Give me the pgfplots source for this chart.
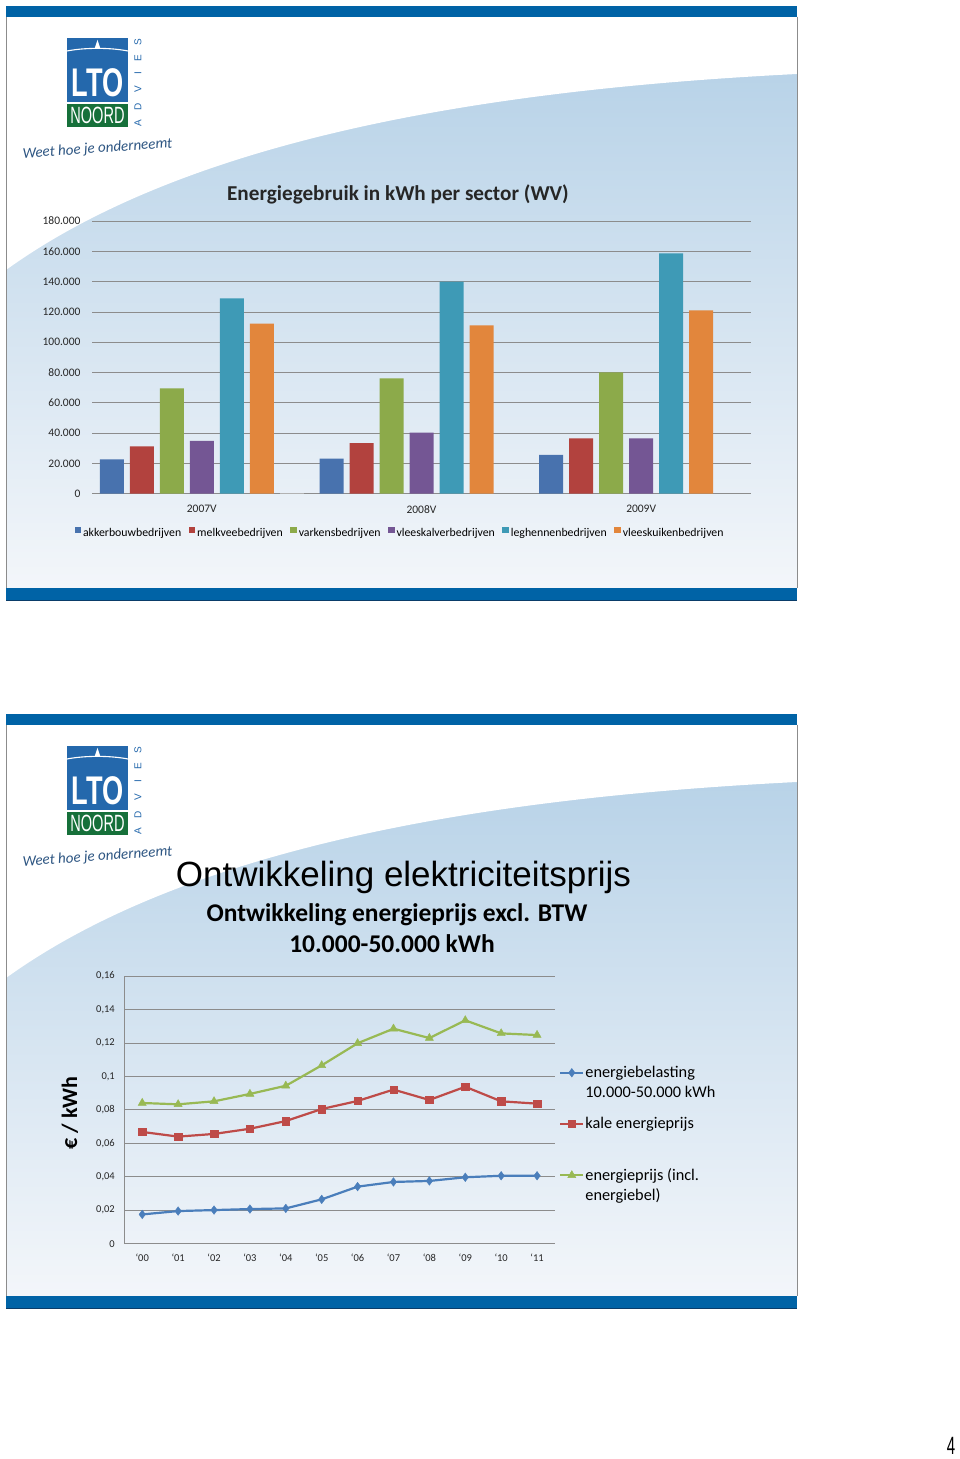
\documentclass[border=0pt]{standalone}
\usepackage{fontspec}
\setmainfont{Carlito}
\newfontfamily\arialfont{Liberation Sans}
\usepackage{pgfplots}
\pgfplotsset{compat=1.18}
\definecolor{band}{RGB}{0,99,166}
\definecolor{bandline}{RGB}{10,60,105}
\definecolor{bgtop}{RGB}{178,207,230}
\definecolor{bgmid}{RGB}{214,228,240}
\definecolor{bgbot}{RGB}{243,246,250}
\definecolor{logoblue}{RGB}{36,104,172}
\definecolor{logogreen}{RGB}{22,112,58}
\definecolor{slogan}{RGB}{45,85,130}
\definecolor{cA}{RGB}{72,114,174}
\definecolor{cB}{RGB}{178,66,62}
\definecolor{cC}{RGB}{140,170,74}
\definecolor{cD}{RGB}{116,86,148}
\definecolor{cE}{RGB}{62,154,182}
\definecolor{cF}{RGB}{226,134,60}
\definecolor{lA}{RGB}{74,126,187}
\definecolor{lB}{RGB}{190,75,72}
\definecolor{lC}{RGB}{152,185,84}
\definecolor{gridc}{RGB}{140,140,140}

\newcommand{\slidebg}[1]{%
\begin{scope}[x=1pt,y=-1pt,yshift=#1pt]
  \shade[top color=bgtop, middle color=bgmid, bottom color=bgbot] (6,17) rectangle (797,588);
  \fill[white] (6,17) -- (797,17) -- (797,74) .. controls (520,88) and (200,130) .. (6,270) -- cycle;
  \fill[band] (6,6) rectangle (797,17.5);
  \fill[band] (6,588) rectangle (797,600);
  \draw[bandline, line width=0.8pt] (6,600) -- (797,600);
  \draw[black!45, line width=0.5pt] (6,17.5) -- (6,588) (797,17.5) -- (797,588);
  \fill[logoblue] (67,38) rectangle (128,102);
  \fill[logogreen] (67,104) rectangle (128,127);
  \draw[white, line width=1.1pt] (67,51) .. controls (85,47.5) and (110,47.5) .. (128,51);
  \fill[white] (94.5,49) -- (97.5,40) -- (100.5,49) -- cycle;
  \node[white, font=\arialfont\bfseries\fontsize{40}{40}\selectfont, xscale=0.68, anchor=base, inner sep=0pt] at (97.5,97) {LTO};
  \node[white, font=\arialfont\fontsize{23.5}{24}\selectfont, xscale=0.62, anchor=base, inner sep=0pt] at (97.5,124) {NOORD};
  \foreach \l/\yy in {A/123,D/107,V/89,I/73,E/58,S/42}
    \node[logoblue, font=\arialfont\fontsize{10}{10}\selectfont, rotate=90, inner sep=0pt] at (138,\yy) {\l};
  \node[slogan, font=\itshape\fontsize{15}{15}\selectfont, rotate=4, inner sep=0pt] at (97.5,149) {Weet hoe je onderneemt};
\end{scope}}

\begin{document}
\begin{tikzpicture}
\fill[white] (0pt,0pt) rectangle (960pt,1459pt);
\useasboundingbox (0pt,0pt) rectangle (960pt,1459pt);
\slidebg{1459}
\slidebg{751}

% texts in image coordinates
\begin{scope}[x=1pt,y=-1pt,yshift=1459pt]
  \node[font=\bfseries\fontsize{21.2}{22}\selectfont, anchor=base, text=black!85] at (398,201) {Energiegebruik in kWh per sector (WV)};
  \node[font=\arialfont\fontsize{35}{35}\selectfont, anchor=base] at (403.5,887) {Ontwikkeling elektriciteitsprijs};
  \node[font=\bfseries\fontsize{25.5}{26}\selectfont, anchor=base] at (397,922) {Ontwikkeling energieprijs excl. BTW};
  \node[font=\bfseries\fontsize{25.5}{26}\selectfont, anchor=base] at (392,953) {10.000-50.000 kWh};
  \node[font=\arialfont\fontsize{25}{25}\selectfont, xscale=0.6, anchor=base] at (951,1454) {4};
\end{scope}

% ---------- top chart ----------
\begin{axis}[
  at={(92pt,965.3pt)}, anchor=south west,
  width=659pt, height=272.7pt, scale only axis,
  xmin=-0.5, xmax=2.5, ymin=0, ymax=180000,
  ybar, bar width=24pt,
  axis line style={draw=none},
  major tick length=0pt,
  ymajorgrids, grid style={gridc, line width=0.7pt},
  xtick={0,1,2}, xticklabels={2007V,2008V,2009V},
  ytick={0,20000,40000,60000,80000,100000,120000,140000,160000,180000},
  scaled y ticks=false,
  /pgf/number format/fixed,
  /pgf/number format/set thousands separator={.},
  /pgf/number format/assume math mode=true,
  tick label style={font=\fontsize{11.5}{12}\selectfont, text=black!85},
  yticklabel style={xshift=-8pt},
  xticklabel style={yshift=-8pt},
  legend columns=6,
  legend style={at={(0.4674,-0.1441)}, anchor=center, draw=none, fill=none,
    font=\fontsize{11.8}{13}\selectfont, inner sep=0pt,
    cells={inner sep=1.2pt},
    /tikz/every even column/.append style={column sep=5.5pt}},
  legend image code/.code={\fill[#1, draw=none] (0pt,-0.5pt) rectangle (6.5pt,6pt);},
]
\addplot[fill=cA, draw=none, bar shift=-90pt] coordinates {(0,22700) (1,23100) (2,25700)};
\addlegendentry{akkerbouwbedrijven}
\addplot[fill=cB, draw=none, bar shift=-60pt] coordinates {(0,31200) (1,33400) (2,36500)};
\addlegendentry{melkveebedrijven}
\addplot[fill=cC, draw=none, bar shift=-30pt] coordinates {(0,69500) (1,76100) (2,80100)};
\addlegendentry{varkensbedrijven}
\addplot[fill=cD, draw=none, bar shift=0pt] coordinates {(0,34800) (1,40300) (2,36500)};
\addlegendentry{vleeskalverbedrijven}
\addplot[fill=cE, draw=none, bar shift=30pt] coordinates {(0,129000) (1,140000) (2,158700)};
\addlegendentry{leghennenbedrijven}
\addplot[fill=cF, draw=none, bar shift=60pt] coordinates {(0,112200) (1,111100) (2,121000)};
\addlegendentry{vleeskuikenbedrijven}
\addplot[fill=gray!60, draw=none, bar shift=90pt, forget plot] coordinates {(0,400)};
\end{axis}

% ---------- bottom chart ----------
\begin{axis}[
  at={(124.3pt,215.3pt)}, anchor=south west,
  width=430.7pt, height=267.7pt, scale only axis,
  xmin=-0.5, xmax=11.5, ymin=0, ymax=0.16,
  separate axis lines,
  axis x line*=bottom, axis y line*=left,
  axis line style={gridc, line width=0.8pt, -},
  major tick length=0pt,
  ymajorgrids, grid style={gridc, line width=0.7pt},
  xtick={0,1,2,3,4,5,6,7,8,9,10,11},
  xticklabels={`00,`01,`02,`03,`04,`05,`06,`07,`08,`09,`10,`11},
  ytick={0,0.02,0.04,0.06,0.08,0.1,0.12,0.14,0.16},
  /pgf/number format/use comma,
  /pgf/number format/fixed,
  /pgf/number format/precision=2,
  /pgf/number format/assume math mode=true,
  tick label style={font=\fontsize{10.5}{11}\selectfont, text=black!85},
  yticklabel style={xshift=-6pt},
  xticklabel style={yshift=-7pt},
  ylabel={€ / kWh},
  ylabel style={at={(axis description cs:-0.126,0.488)}, anchor=center, font=\bfseries\fontsize{22}{22}\selectfont},
  legend style={at={(1.0093,0.6675)}, anchor=north west, draw=none, fill=none,
    font=\fontsize{16.3}{20}\selectfont, inner sep=0pt,
    cells={anchor=base west},
    nodes={inner sep=1pt, text depth=}},
  legend image code/.code={\draw[mark repeat=2,mark phase=2,#1] plot coordinates {(0pt,4.8pt)(11.5pt,4.8pt)(23pt,4.8pt)};},
]
\addplot[lA, line width=2.2pt, mark=diamond*, mark size=4.3pt, mark options={solid, fill=lA, line width=0.4pt}]
  coordinates {(0,0.0175) (1,0.0195) (2,0.0201) (3,0.0207) (4,0.0211) (5,0.0265) (6,0.0341) (7,0.0369) (8,0.0375) (9,0.0397) (10,0.0406) (11,0.0406)};
\addlegendentry{\parbox[t][49pt][t]{140pt}{energiebelasting\\10.000-50.000 kWh}}
\addplot[lB, line width=2.2pt, mark=square*, mark size=3.7pt, mark options={solid, fill=lB, line width=0.4pt}]
  coordinates {(0,0.0668) (1,0.0640) (2,0.0656) (3,0.0687) (4,0.0733) (5,0.0805) (6,0.0853) (7,0.0921) (8,0.0859) (9,0.0938) (10,0.0851) (11,0.0837)};
\addlegendentry{\parbox[t][49pt][t]{140pt}{kale energieprijs}}
\addplot[lC, line width=2.2pt, mark=triangle*, mark size=4.7pt, mark options={solid, fill=lC, line width=0.4pt}]
  coordinates {(0,0.0841) (1,0.0833) (2,0.0851) (3,0.0895) (4,0.0944) (5,0.1066) (6,0.1198) (7,0.1285) (8,0.1229) (9,0.1335) (10,0.1257) (11,0.1247)};
\addlegendentry{\parbox[t][49pt][t]{140pt}{energieprijs (incl.\\energiebel)}}
\end{axis}
\end{tikzpicture}
\end{document}
